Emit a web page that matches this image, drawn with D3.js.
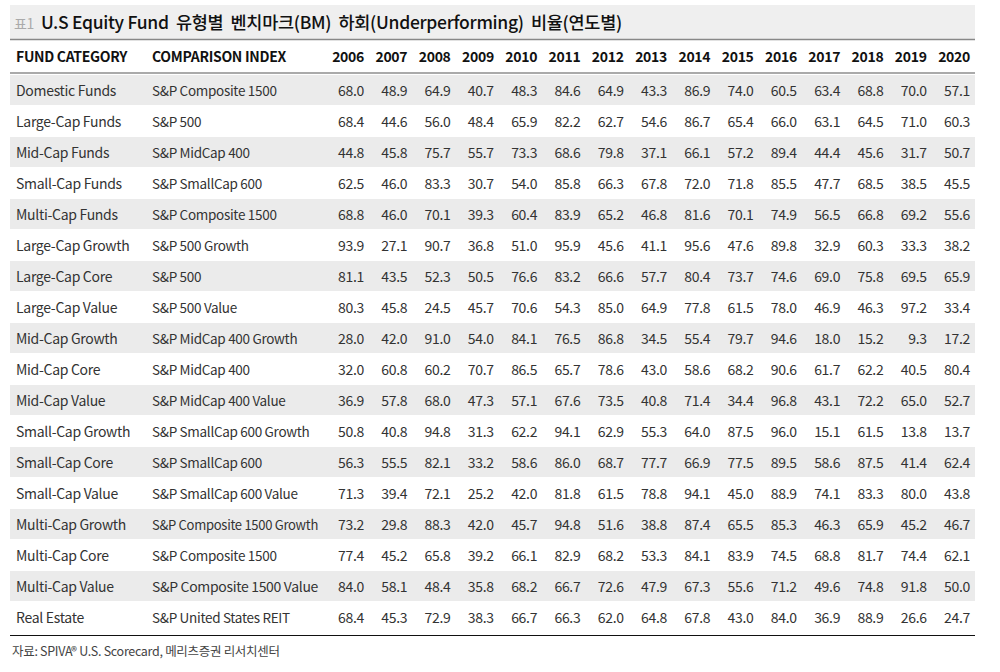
<!DOCTYPE html>
<html><head><meta charset="utf-8">
<script src="https://cdn.jsdelivr.net/npm/d3@7"></script>
<style>body{margin:0;background:#fff} text{letter-spacing:-0.3px}</style>
</head><body>
<svg id="chart" width="1000" height="672"></svg>
<script>
var years=["2006","2007","2008","2009","2010","2011","2012","2013","2014","2015","2016","2017","2018","2019","2020"];
var categories=["Domestic Funds","Large-Cap Funds","Mid-Cap Funds","Small-Cap Funds","Multi-Cap Funds","Large-Cap Growth","Large-Cap Core","Large-Cap Value","Mid-Cap Growth","Mid-Cap Core","Mid-Cap Value","Small-Cap Growth","Small-Cap Core","Small-Cap Value","Multi-Cap Growth","Multi-Cap Core","Multi-Cap Value","Real Estate"];
var indexes=["S&P Composite 1500","S&P 500","S&P MidCap 400","S&P SmallCap 600","S&P Composite 1500","S&P 500 Growth","S&P 500","S&P 500 Value","S&P MidCap 400 Growth","S&P MidCap 400","S&P MidCap 400 Value","S&P SmallCap 600 Growth","S&P SmallCap 600","S&P SmallCap 600 Value","S&P Composite 1500 Growth","S&P Composite 1500","S&P Composite 1500 Value","S&P United States REIT"];
var values=[
[68.0,48.9,64.9,40.7,48.3,84.6,64.9,43.3,86.9,74.0,60.5,63.4,68.8,70.0,57.1],
[68.4,44.6,56.0,48.4,65.9,82.2,62.7,54.6,86.7,65.4,66.0,63.1,64.5,71.0,60.3],
[44.8,45.8,75.7,55.7,73.3,68.6,79.8,37.1,66.1,57.2,89.4,44.4,45.6,31.7,50.7],
[62.5,46.0,83.3,30.7,54.0,85.8,66.3,67.8,72.0,71.8,85.5,47.7,68.5,38.5,45.5],
[68.8,46.0,70.1,39.3,60.4,83.9,65.2,46.8,81.6,70.1,74.9,56.5,66.8,69.2,55.6],
[93.9,27.1,90.7,36.8,51.0,95.9,45.6,41.1,95.6,47.6,89.8,32.9,60.3,33.3,38.2],
[81.1,43.5,52.3,50.5,76.6,83.2,66.6,57.7,80.4,73.7,74.6,69.0,75.8,69.5,65.9],
[80.3,45.8,24.5,45.7,70.6,54.3,85.0,64.9,77.8,61.5,78.0,46.9,46.3,97.2,33.4],
[28.0,42.0,91.0,54.0,84.1,76.5,86.8,34.5,55.4,79.7,94.6,18.0,15.2,9.3,17.2],
[32.0,60.8,60.2,70.7,86.5,65.7,78.6,43.0,58.6,68.2,90.6,61.7,62.2,40.5,80.4],
[36.9,57.8,68.0,47.3,57.1,67.6,73.5,40.8,71.4,34.4,96.8,43.1,72.2,65.0,52.7],
[50.8,40.8,94.8,31.3,62.2,94.1,62.9,55.3,64.0,87.5,96.0,15.1,61.5,13.8,13.7],
[56.3,55.5,82.1,33.2,58.6,86.0,68.7,77.7,66.9,77.5,89.5,58.6,87.5,41.4,62.4],
[71.3,39.4,72.1,25.2,42.0,81.8,61.5,78.8,94.1,45.0,88.9,74.1,83.3,80.0,43.8],
[73.2,29.8,88.3,42.0,45.7,94.8,51.6,38.8,87.4,65.5,85.3,46.3,65.9,45.2,46.7],
[77.4,45.2,65.8,39.2,66.1,82.9,68.2,53.3,84.1,83.9,74.5,68.8,81.7,74.4,62.1],
[84.0,58.1,48.4,35.8,68.2,66.7,72.6,47.9,67.3,55.6,71.2,49.6,74.8,91.8,50.0],
[68.4,45.3,72.9,38.3,66.7,66.3,62.0,64.8,67.8,43.0,84.0,36.9,88.9,26.6,24.7]];

var svg=d3.select("#chart");
var font="'Noto Sans CJK KR','Noto Sans',sans-serif";
var left=10, right=975;

// title bar
svg.append("rect").attr("x",left).attr("y",5).attr("width",right-left).attr("height",34).attr("fill","#efefef");
svg.append("line").attr("x1",left).attr("x2",right).attr("y1",39.5).attr("y2",39.5).attr("stroke","#888").attr("stroke-width",1.5);
var t=svg.append("text").attr("x",14).attr("y",29).attr("font-family",font).attr("xml:space","preserve");
t.append("tspan").attr("font-size",14).attr("fill","#aaa").text("표1 ");
t.append("tspan").attr("font-size",17.5).attr("fill","#111").attr("font-weight",500).attr("dx",4).text("U.S Equity Fund  유형별  벤치마크(BM)  하회(Underperforming)  비율(연도별)");

var y=d3.scaleBand().domain(d3.range(categories.length)).range([75,633]);
var x=d3.scalePoint().domain(years).range([364,970]);

// header
var hy=62;
svg.append("text").attr("x",16).attr("y",hy).attr("font-family",font).attr("font-size",14).attr("font-weight","bold").attr("fill","#111").text("FUND CATEGORY");
svg.append("text").attr("x",152).attr("y",hy).attr("font-family",font).attr("font-size",14).attr("font-weight","bold").attr("fill","#111").text("COMPARISON INDEX");
svg.selectAll("text.yr").data(years).enter().append("text").attr("class","yr")
  .attr("x",d=>x(d)).attr("y",hy).attr("text-anchor","end").attr("font-family",font).attr("font-size",14).attr("font-weight","bold").attr("fill","#111").text(d=>d);
svg.append("line").attr("x1",left).attr("x2",right).attr("y1",73).attr("y2",73).attr("stroke","#aaa").attr("stroke-width",2);

// rows
var rows=svg.selectAll("g.row").data(categories).enter().append("g").attr("class","row")
  .attr("transform",(d,i)=>"translate(0,"+y(i)+")");
rows.append("rect").attr("x",left).attr("width",right-left).attr("height",y.bandwidth()-1)
  .attr("fill",(d,i)=>i%2==0?"#ebebeb":"#fff");
var ty=y.bandwidth()/2+5;
rows.append("text").attr("x",16).attr("y",ty).attr("font-family",font).attr("font-size",14).attr("fill","#333").text(d=>d);
rows.append("text").attr("x",152).attr("y",ty).attr("font-family",font).attr("font-size",13.5).attr("fill","#333")
  .attr("textLength",function(d,i){var n=indexes[i].length;return n>=24?166:null;})
  .attr("lengthAdjust","spacingAndGlyphs").text((d,i)=>indexes[i]);
rows.each(function(d,i){
  d3.select(this).selectAll("text.v").data(values[i]).enter().append("text").attr("class","v")
    .attr("x",(v,j)=>x(years[j])).attr("y",ty).attr("text-anchor","end")
    .attr("font-family",font).attr("font-size",14).attr("fill","#333").text(v=>v.toFixed(1));
});

svg.append("line").attr("x1",left).attr("x2",right).attr("y1",635.5).attr("y2",635.5).attr("stroke","#111").attr("stroke-width",1);
svg.append("text").attr("x",12).attr("y",656).attr("font-family",font).attr("font-size",12.5).attr("fill","#444")
  .text("자료: SPIVA® U.S. Scorecard, 메리츠증권 리서치센터");
</script>
</body></html>
